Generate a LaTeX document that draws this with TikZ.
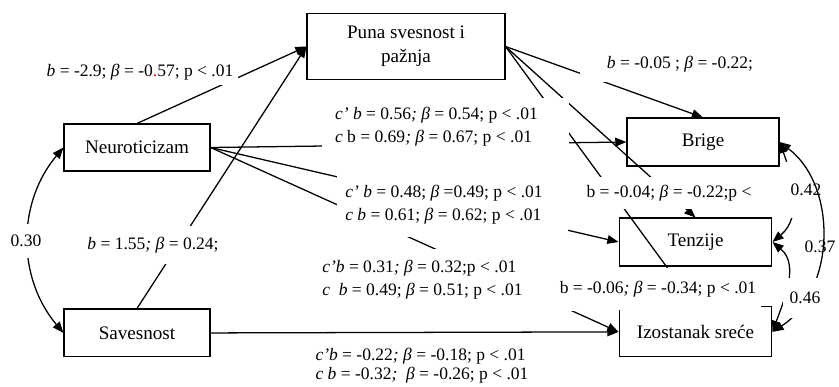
\documentclass[tikz,border=0pt]{standalone}
\usepackage{fontspec}
\setmainfont{Liberation Serif}
\usepackage{tikz}
\usetikzlibrary{arrows.meta,positioning}
\newcommand{\ib}{\textit{b}}
\newcommand{\ibeta}{\textit{β}}

\begin{document}
\begin{tikzpicture}[
  x=0.628pt,y=0.628pt,
  box/.style={draw,line width=.7pt,align=center,inner sep=0pt,font=\fontsize{12}{15}\selectfont},
  lbl/.style={fill=white,inner sep=3pt,align=flush left,font=\fontsize{11}{14.5}\selectfont},
  arr/.style={-{Triangle[length=7pt,width=5.5pt]},line width=.8pt},
  dbl/.style={{Triangle[length=7pt,width=5.5pt]}-{Triangle[length=7pt,width=5.5pt]},line width=.8pt}
]
\useasboundingbox (0,0) rectangle (839,-387);
\node[box,minimum width=124.3pt,minimum height=42pt] (puna) at (406,-46.5) {Puna svesnost i\\pažnja};
\node[box,minimum width=91.7pt,minimum height=29.5pt] (neuro) at (137,-147.5) {Neuroticizam};
\node[box,minimum width=91.7pt,minimum height=30pt,below=86pt of neuro] (save) {Savesnost};
\node[box,minimum width=95.5pt,minimum height=30.1pt] (brige) at (703,-142) {Brige};
\node[box,minimum width=96pt,minimum height=30.1pt] (tenz) at (695.5,-242) {Tenzije};
\node[box,minimum width=96pt,minimum height=31.4pt,below=25pt of tenz] (izo) {Izostanak sreće};

\draw[arr] (neuro.north) -- (puna.west);
\draw[arr] (save.north) -- (puna.west);
\draw[arr] (neuro.east) -- (brige.west);
\draw[arr] (neuro.east) -- (tenz.west);
\draw[arr] (neuro.east) -- (izo.west);
\draw[arr] (save.east) -- (izo.west);
\draw[arr] (puna.east) -- (brige.north);
\draw[arr] (puna.east) -- (tenz.north);
\draw[arr] (puna.east) -- (izo.north);
\draw[dbl] (neuro.west) to[bend right=40] (save.west);
\draw[dbl] (tenz.east) to[out=40,in=-70] (brige.east);
\draw[dbl] (tenz.east) to[out=-40,in=70] (izo.east);

\node[lbl] (lneuropuna) at (140,-72) {\ib{} = -2.9; \ibeta{} = -0{\color{red}.}57; p < .01};
\node[lbl,inner ysep=7pt] (lsavepuna) at (153,-245) {\ib{} = 1.55\textit{; β} = 0.24;};
\node[lbl,anchor=west,inner xsep=8pt,inner ysep=6pt,text width=139pt] (lneurobrige) at (322,-127) {\textit{c’ b} = 0.56\textit{; β} = 0.54; p < .01\\\textit{c} b = 0.69\textit{; β} = 0.67; p < .01};
\node[lbl,anchor=west,inner xsep=5pt,inner ysep=8pt,text width=135pt] (lneurotenz) at (337,-205) {\textit{c’ b} = 0.48; \ibeta{} =0.49; p < .01\\\textit{c b} = 0.61; \ibeta{} = 0.62; p < .01};
\node[lbl,anchor=west,inner xsep=7.5pt,inner ysep=7pt,text width=161pt] (lneuroizo) at (310,-280) {\textit{c’b} = 0.31\textit{; β} = 0.32;p < .01\\\textit{c\ \ b} = 0.49; \ibeta{} = 0.51; p < .01};
\node[lbl] (lsaveizo) at (422,-366) {\textit{c’b} = -0.22\textit{; β} = -0.18; p < .01\\[-2.5pt]\textit{c b} = -0.32\textit{;\ \ β} = -0.26; p < .01};
\node[lbl,inner xsep=17pt,inner ysep=6pt] (lpunabrige) at (680,-64) {\ib{} = -0.05 ; \ibeta{} = -0.22;};
\node[lbl,inner ysep=5pt] (lpunatenz) at (669,-193) {b = -0.04; \ibeta{} = -0.22;p <};
\node[lbl,inner ysep=8pt] (lpunaizo) at (658,-289) {b = -0.06\textit{; β} = -0.34; p < .01};
\node[lbl,inner xsep=2pt,inner ysep=7pt] (lns) at (26,-241) {0.30};
\node[lbl,inner xsep=4pt,inner ysep=14pt] (lbt) at (806,-190) {0.42};
\node[lbl,fill=none,inner sep=1pt] (lbi) at (820,-247) {0.37};
\draw[dbl] (brige.east) to[bend left=55] (izo.east);
\node[lbl,inner xsep=4pt,inner ysep=9pt] (lti) at (805,-298) {0.46};
\end{tikzpicture}
\end{document}
